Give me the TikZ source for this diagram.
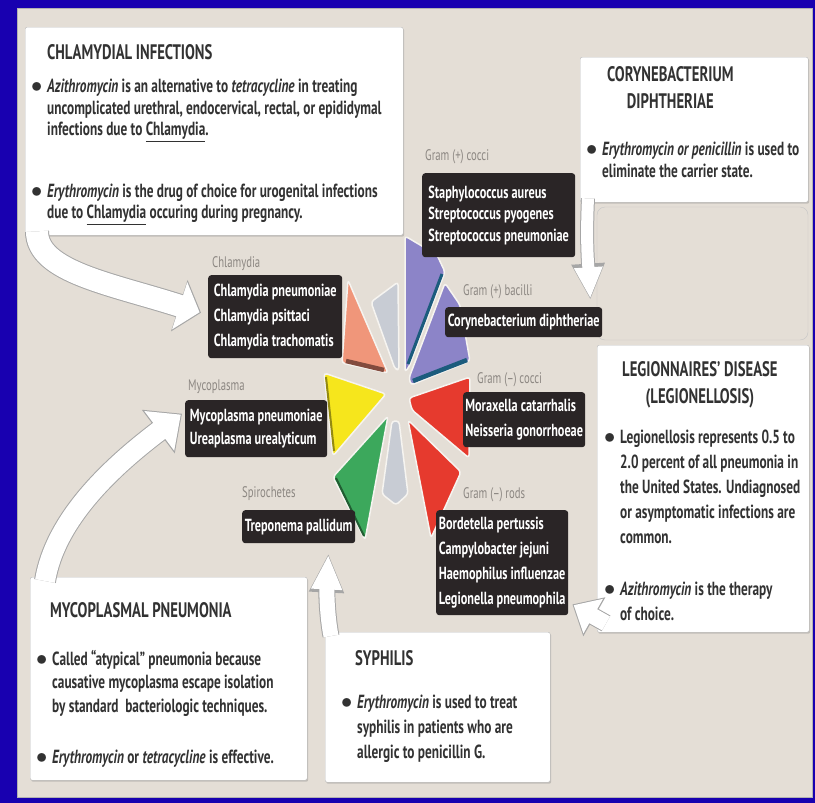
\documentclass[tikz,border=0pt]{standalone}
\usepackage{fontspec}
\setmainfont{PT Sans}[FakeStretch=0.7]
\usetikzlibrary{arrows.meta,positioning,shadows}

\definecolor{slidebg}{RGB}{24,0,176}
\definecolor{panel}{RGB}{228,222,214}
\definecolor{gapc}{RGB}{246,244,240}
\definecolor{boxdark}{RGB}{42,37,38}
\definecolor{labelgray}{RGB}{140,135,130}
\definecolor{inktext}{RGB}{50,50,50}
\definecolor{lavender}{RGB}{140,132,200}
\definecolor{tealedge}{RGB}{28,92,125}
\definecolor{pinkred}{RGB}{230,58,46}
\definecolor{salmon}{RGB}{240,150,122}
\definecolor{salmonedge}{RGB}{130,75,62}
\definecolor{lemon}{RGB}{246,230,28}
\definecolor{grass}{RGB}{60,168,92}
\definecolor{steel}{RGB}{200,204,212}

\newcommand{\bul}{\makebox[12pt][l]{\hspace*{-4pt}\scalebox{1.3}{$\bullet$}}}
\newcommand{\ind}{\hspace*{12pt}}

\tikzset{
  infobox/.style={anchor=north west, draw=gray!55, fill=white, rounded corners=2pt, inner sep=0pt,
    drop shadow={shadow xshift=1pt, shadow yshift=-1.5pt, opacity=.35}},
  heading/.style={anchor=north west, align=center, inner sep=0pt, text=inktext,
    font=\bfseries\fontsize{21pt}{27pt}\selectfont},
  infotext/.style={anchor=north west, align=left, inner sep=0pt, text=inktext,
    font=\bfseries\fontsize{19pt}{#1pt}\selectfont},
  infotext/.default=22,
  darkbox/.style={anchor=north west, fill=boxdark, text=white, rounded corners=3pt, align=left,
    inner sep=0pt, font=\bfseries\fontsize{17.5pt}{#1pt}\selectfont},
  darkbox/.default=23,
  group/.style={text=labelgray, inner sep=0pt, font=\fontsize{15.3pt}{18pt}\selectfont},
  petal/.style={draw=gapc, line width=1.5pt, rounded corners=3pt, line join=round},
  callout/.style n args={4}{draw=white, line width=#1, shorten >=1.5pt,
    -{Triangle[width=0pt #3, length=0pt #4]},
    preaction={draw=gray!70, line width=#2, shorten >=0pt,
      -{Triangle[width=0pt #3, length=0pt #4]}}},
}

\begin{document}
\begin{tikzpicture}[x=1pt, y=-1pt]
  % Frame
  \useasboundingbox (0,0) rectangle (815,803);
  \fill[slidebg] (0,0) rectangle (815,803);
  \filldraw[fill=panel, draw=gray!60] (17,8) rectangle (812,797);
  \draw[gray!45, rounded corners=8pt] (597,207) rectangle (808,340);

  % Petals of the chart
  \filldraw[petal, fill=lavender] (405,372) -- (405,236) -- (437,255) -- (445,272) -- (409,367) -- cycle;
  \filldraw[petal, fill=lavender] (409,378) -- (445,283) -- (460,305) -- (470,361) -- (411,385) -- cycle;
  \filldraw[petal, fill=pinkred] (409,398) -- (470,377) -- (469,458) -- (412,410) -- cycle;
  \filldraw[petal, fill=pinkred] (408,420) -- (461,472) -- (431,538) -- cycle;
  \filldraw[petal, fill=steel] (392,421) -- (399,421) -- (408,494) -- (396,505) -- (382,494) -- cycle;
  \filldraw[petal, fill=grass] (388,416) -- (333,477) -- (365,540) -- cycle;
  \filldraw[petal, fill=lemon] (324,373) -- (386,394) -- (333,456) -- cycle;
  \filldraw[petal, fill=salmon] (348,280) -- (388,373) -- (342,363) -- cycle;
  \filldraw[petal, fill=steel] (371,302) -- (398,282) -- (399,370) -- (395,369) -- cycle;
  % Shaded edges
  \draw[tealedge, line width=3pt] (442,274) -- (408,364);
  \draw[tealedge, line width=4.5pt] (413,381) -- (467,360);
  \draw[salmonedge, line width=4.5pt] (346,361) -- (384,370);
  \draw[grass!55!black, line width=2pt] (336,478) -- (364,536);
  \draw[lemon!60!black, line width=2pt] (326,377) -- (334,451);

  % Info boxes
  \node[infobox, minimum width=378pt, minimum height=208pt] (chlinf) at (25,27) {};
  \node[infobox, minimum width=228pt, minimum height=145pt] (coryinf) at (580,57) {};
  \node[infobox, minimum width=212pt, minimum height=287pt] (leginf) at (597,345) {};
  \node[infobox, minimum width=277pt, minimum height=203pt] (mycinf) at (30,577) {};
  \node[infobox, minimum width=225pt, minimum height=150pt] (syphinf) at (325,632) {};

  % Organism boxes
  \node[darkbox=21.5, minimum width=153pt, minimum height=84pt] (cocbox) at (422,173)
    {Staphylococcus aureus\\Streptococcus pyogenes\\Streptococcus pneumoniae};
  \node[darkbox, minimum width=157pt, minimum height=30pt] (corbox) at (445,307)
    {Corynebacterium diphtheriae};
  \node[darkbox=25, minimum width=122pt, minimum height=55pt] (moxbox) at (463,392)
    {Moraxella catarrhalis\\Neisseria gonorrhoeae};
  \node[darkbox=25, minimum width=132pt, minimum height=105pt] (rodbox) at (436,510)
    {Bordetella pertussis\\Campylobacter jejuni\\Haemophilus influenzae\\Legionella pneumophila};
  \node[darkbox=25, minimum width=134pt, minimum height=83pt] (chlbox) at (208,275)
    {Chlamydia pneumoniae\\Chlamydia psittaci\\Chlamydia trachomatis};
  \node[darkbox, minimum width=142pt, minimum height=57pt] (mycbox) at (185,400)
    {Mycoplasma pneumoniae\\Ureaplasma urealyticum};
  \node[darkbox, minimum width=113pt, minimum height=33pt] (trebox) at (242,510)
    {Treponema pallidum};

  % Group labels
  \node[group, above right=9pt and 3pt of cocbox.north west] {Gram (+) cocci};
  \node[group, above right=8pt and 18pt of corbox.north west] {Gram (+) bacilli};
  \node[group, above right=5pt and 14pt of moxbox.north west] {Gram (–) cocci};
  \node[group, above right=8pt and 27pt of rodbox.north west] {Gram (–) rods};
  \node[group, above right=4pt and 4pt of chlbox.north west] {Chlamydia};
  \node[group, above right=6pt and 3pt of mycbox.north west] {Mycoplasma};
  \node[group, above right=9pt and 0pt of trebox.north west] {Spirochetes};

  % Callout arrows
  \draw[callout={22pt}{24pt}{2.2}{0.95}] ([xshift=12pt,yshift=4pt]chlinf.south west)
    .. controls (37,272) and (112,284) .. ([xshift=-7pt,yshift=4pt]chlbox.west);
  \draw[callout={12pt}{14pt}{2.2}{2.6}] ([xshift=8pt,yshift=4pt]coryinf.south west)
    .. controls (586,240) and (588,262) .. ([xshift=-12pt,yshift=7pt]corbox.north east);
  \draw[callout={16pt}{18pt}{2.4}{1.4}] ([xshift=9pt,yshift=9pt]leginf.south west)
    -- ([xshift=4pt,yshift=11pt]rodbox.south east);
  \draw[callout={20pt}{22pt}{2.4}{1.35}] ([xshift=15pt,yshift=-4pt]mycinf.north west)
    .. controls (55,520) and (110,468) .. ([xshift=-3pt,yshift=15pt]mycbox.west);
  \draw[callout={15pt}{17pt}{1.9}{2.3}] ([xshift=6pt,yshift=-4pt]syphinf.north west)
    .. controls (326,610) and (327,582) .. ([xshift=-27pt,yshift=-10pt]trebox.south east);

  % Box texts
  \node[heading, below right=17pt and 22pt of chlinf.north west] (chlhead) {CHLAMYDIAL INFECTIONS};
  \node[infotext=21.5, below right=52pt and 10pt of chlinf.north west] (chltext)
    {\bul\textit{Azithromycin} is an alternative to \textit{tetracycline} in treating\\
     \ind uncomplicated urethral, endocervical, rectal, or epididymal\\
     \ind infections due to \underline{Chlamydia}.\\[40pt]
     \bul\textit{Erythromycin} is the drug of choice for urogenital infections\\
     \ind due to \underline{Chlamydia} occuring during pregnancy.};

  \node[heading, below right=9pt and 27pt of coryinf.north west] (coryhead) {CORYNEBACTERIUM\\DIPHTHERIAE};
  \node[infotext, below right=85pt and 10pt of coryinf.north west] (corytext)
    {\bul\textit{Erythromycin or penicillin} is used to\\
     \ind eliminate the carrier state.};

  \node[heading, below right=16pt and 25pt of leginf.north west] (leghead) {LEGIONNAIRES' DISEASE\\(LEGIONELLOSIS)};
  \node[infotext=25, below right=85pt and 11pt of leginf.north west] (legtext)
    {\bul Legionellosis represents 0.5 to\\
     \ind 2.0 percent of all pneumonia in\\
     \ind the United States. Undiagnosed\\
     \ind or asymptomatic infections are\\
     \ind common.\\[27pt]
     \bul\textit{Azithromycin} is the therapy\\
     \ind of choice.};

  \node[heading, below right=25pt and 20pt of mycinf.north west] (mychead) {MYCOPLASMAL PNEUMONIA};
  \node[infotext=23.5, below right=73pt and 10pt of mycinf.north west] (myctext)
    {\bul Called “atypical” pneumonia because\\
     \ind causative mycoplasma escape isolation\\
     \ind by standard\ \ bacteriologic techniques.\\[28pt]
     \bul\textit{Erythromycin} or \textit{tetracycline} is effective.};

  \node[heading, below right=18pt and 30pt of syphinf.north west] (syphhead) {SYPHILIS};
  \node[infotext=25, below right=63pt and 20pt of syphinf.north west] (syphtext)
    {\bul\textit{Erythromycin} is used to treat\\
     \ind syphilis in patients who are\\
     \ind allergic to penicillin G.};
\end{tikzpicture}
\end{document}
